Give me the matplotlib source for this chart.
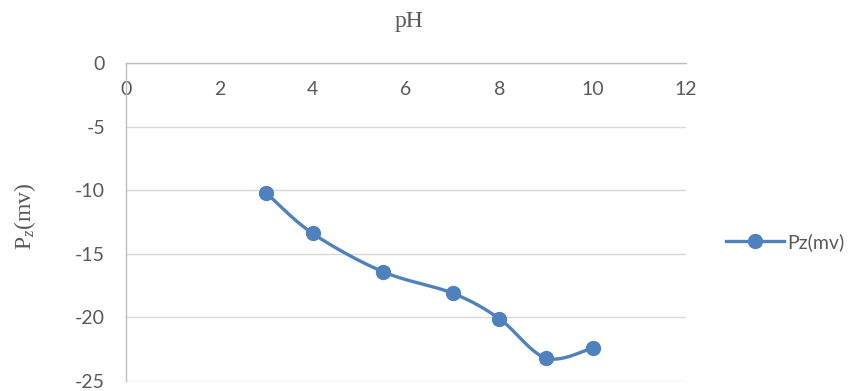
import numpy as np
import matplotlib
matplotlib.use("Agg")
import matplotlib.pyplot as plt
from matplotlib.lines import Line2D

# Zeta potential vs pH
ph = [3, 4, 5.5, 7, 8, 9, 10]
pz = [-10.2, -13.4, -16.4, -18.1, -20.1, -23.2, -22.4]
x_ticks = [0, 2, 4, 6, 8, 10, 12]
y_ticks = [0, -5, -10, -15, -20, -25]
series_name = "Pz(mv)"

BLUE = "#4F81BD"
GRID = "#D9D9D9"
AXIS = "#BFBFBF"
TXT = "#595959"

plt.rcParams["axes.unicode_minus"] = False
plt.rcParams["font.family"] = ["Lato", "DejaVu Sans"]
plt.rcParams["mathtext.fontset"] = "custom"
plt.rcParams["mathtext.rm"] = "Liberation Serif"
plt.rcParams["mathtext.it"] = "Liberation Serif:italic"

SERIF = ["Liberation Serif", "DejaVu Serif"]
TICK_FS = 14


def smooth(xs, ys, n=40):
    """Catmull-Rom style cubic Bezier smoothing through every point."""
    p = np.column_stack([xs, ys]).astype(float)
    ext = np.vstack([p[0], p, p[-1]])
    out = []
    t = np.linspace(0, 1, n)[:, None]
    for i in range(len(p) - 1):
        p0, p1, p2, p3 = ext[i], ext[i + 1], ext[i + 2], ext[i + 3]
        c1 = p1 + (p2 - p0) / 6.0
        c2 = p2 - (p3 - p1) / 6.0
        seg = ((1 - t) ** 3) * p1 + 3 * ((1 - t) ** 2) * t * c1 \
            + 3 * (1 - t) * t ** 2 * c2 + t ** 3 * p2
        out.append(seg if i == 0 else seg[1:])
    s = np.vstack(out)
    return s[:, 0], s[:, 1]


fig = plt.figure(figsize=(8.59, 3.91), dpi=100)
ax = fig.add_axes([126 / 859, 1 - 381 / 391, (686 - 126) / 859, (381 - 63) / 391])

ax.set_xlim(0, 12)
ax.set_ylim(-25, 0)
ax.set_xticks(x_ticks)
ax.set_yticks(y_ticks)
ax.set_xticklabels([str(v) for v in x_ticks])
ax.set_yticklabels([str(v) for v in y_ticks])

# horizontal gridlines
ax.yaxis.grid(True, color=GRID, linewidth=1.0)
ax.xaxis.grid(False)
ax.set_axisbelow(True)

# x axis sits at y = 0 (top of the plot), labels drawn below it
for side in ["right", "top"]:
    ax.spines[side].set_visible(False)
ax.spines["bottom"].set_position(("data", 0))
ax.spines["bottom"].set_color(AXIS)
ax.spines["left"].set_color(AXIS)
ax.spines["bottom"].set_linewidth(1.0)
ax.spines["left"].set_linewidth(1.0)

ax.tick_params(axis="x", length=0, pad=13, labelsize=TICK_FS, labelcolor=TXT)
ax.tick_params(axis="y", length=0, pad=15, labelsize=TICK_FS, labelcolor=TXT)

sx, sy = smooth(ph, pz)
ax.plot(sx, sy, color=BLUE, linewidth=2.4, solid_capstyle="round", zorder=3)
ax.plot(ph, pz, linestyle="none", marker="o", markersize=10,
        color=BLUE, zorder=4)

fig.text(409 / 859, 1 - 22 / 391, "pH", ha="center", va="center",
         fontsize=17, color=TXT, family=SERIF)
fig.text(25 / 859, 1 - 216 / 391, r"P$_{\mathit{z}}$(mv)", ha="center",
         va="center", rotation=90, fontsize=17, color=TXT, family=SERIF)

handle = Line2D([], [], color=BLUE, linewidth=2.4, marker="o", markersize=10)
fig.legend([handle], [series_name], loc="center left",
           bbox_to_anchor=(726 / 859, 1 - 242 / 391), frameon=False,
           fontsize=TICK_FS, labelcolor=TXT, handlelength=3.0,
           handletextpad=0.15, borderaxespad=0, borderpad=0)

fig.savefig("out.png", dpi=100)
